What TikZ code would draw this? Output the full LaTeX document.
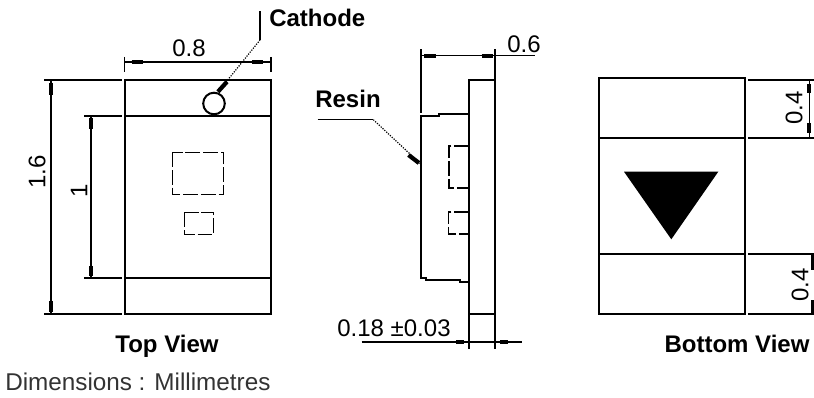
\documentclass[tikz,border=0pt]{standalone}
\usepackage{fontspec}
\setmainfont{Liberation Sans}
\usepackage{tikz}
\tikzstyle{outline} = [line width=1.5pt, black]
\tikzstyle{dimline} = [line width=1.2pt, black]
\tikzstyle{hidden} = [line width=1.2pt, black, dash pattern=on 11pt off 2.2pt]
\tikzstyle{leader} = [line width=0.9pt, black, densely dotted]
\tikzstyle{blob} = [line width=3.2pt, black]
\tikzstyle{dimtext} = [font=\fontsize{18}{20}\selectfont, inner sep=0pt]
\tikzstyle{viewtitle} = [font=\fontsize{18}{20}\selectfont\bfseries, inner sep=0pt]

\begin{document}
\begin{tikzpicture}[x=0.75pt, y=-0.75pt]
            \useasboundingbox (0,0) rectangle (814,398);

            % Top view
            \draw [outline] (124.5,80) rectangle (271,314);
            \draw [outline] (124.5,116) -- (271,116);
            \draw [outline] (124.5,278) -- (271,278);
            \draw [outline] (214,103.5) circle (10.8);
            \draw [hidden] (172.5,152.5) rectangle (223.5,194.5);
            \draw [hidden] (184.5,212.5) rectangle (213.5,234.5);

            % Top view dimensions
            \draw [dimline] (124.5,57) -- (124.5,72);
            \draw [dimline] (271,57) -- (271,72);
            \draw [dimline] (124.5,62) -- (271,62);
            \draw [blob] (131.5,62) -- (143,62);
            \draw [blob] (252,62) -- (263,62);
            \node (widthlabel) [dimtext] at (189,48) {0.8};

            \draw [dimline] (44,80) -- (121.5,80);
            \draw [dimline] (44,314) -- (121.5,314);
            \draw [dimline] (50.7,80) -- (50.7,314);
            \draw [blob] (51,83) -- (51,95);
            \draw [blob] (51,301) -- (51,312);
            \node (heightlabel) [dimtext, rotate=90] at (37,172) {1.6};

            \draw [dimline] (84,116) -- (121.5,116);
            \draw [dimline] (84,278) -- (121.5,278);
            \draw [dimline] (90.7,116) -- (90.7,278);
            \draw [blob] (91,118) -- (91,129);
            \draw [blob] (91,266) -- (91,276);
            \node (padlabel) [dimtext, rotate=90] at (79,191) {1};

            \draw [leader] (218,92) -- (260,40);
            \draw [dimline] (260,40) -- (260,11.5);
            \draw [blob] (218,91.7) -- (227,81.7);
            \node (cathode) [viewtitle, anchor=west] at (269,18) {Cathode};
            \node (topview) [viewtitle] at (167,346) {Top View};

            % Side view
            \draw [outline] (469,80.3) rectangle (494.7,314);
            \draw [outline] (469,314) -- (469,349.3);
            \draw [outline] (494.7,314) -- (494.7,349.3);
            \draw [outline] (469,114) -- (439,114) -- (439,115.7) -- (420.7,115.7) -- (420.7,278.3) -- (426,278.3) -- (426,279.7) -- (460,279.7) -- (460,282) -- (469,282);
            \draw [hidden] (469,146) -- (449,146) -- (449,188.3) -- (469,188.3);
            \draw [hidden] (469,212.3) -- (448.5,212.3) -- (448.5,234) -- (469,234);

            % Side view dimensions
            \draw [dimline] (420.7,49.3) -- (420.7,113);
            \draw [dimline] (494.7,49.3) -- (494.7,80);
            \draw [dimline] (420.7,55.7) -- (535,55.7);
            \draw [blob] (424,55.7) -- (436,55.7);
            \draw [blob] (481.7,55.7) -- (493,55.7);
            \node (depthlabel) [dimtext] at (524,44) {0.6};

            \draw [dimline] (361.7,342.3) -- (521.7,342.3);
            \draw [blob] (456,342.3) -- (464,342.3);
            \draw [blob] (500,342.3) -- (507.7,342.3);
            \node (leadlabel) [dimtext] at (394,328) {0.18 ±0.03};

            \draw [dimline] (317.7,119.7) -- (373.3,119.7);
            \draw [leader] (373.3,119.7) -- (420.7,164);
            \draw [blob] (408.5,155) -- (419,163);
            \node (resin) [viewtitle] at (348,99) {Resin};

            % Bottom view
            \draw [outline] (598.7,78.3) rectangle (745.3,314);
            \draw [outline] (598.7,138) -- (745.3,138);
            \draw [outline] (598.7,254) -- (745.3,254);
            \fill [black] (624,171.7) -- (718.3,171.7) -- (671.3,239.3) -- cycle;

            % Bottom view dimensions
            \draw [dimline] (748,80) -- (814,80);
            \draw [dimline] (748,138) -- (814,138);
            \draw [dimline] (809.3,80) -- (809.3,138);
            \draw [blob] (809.3,84) -- (809.3,93);
            \draw [blob] (809.3,123) -- (809.3,132.7);
            \node (toplabel) [dimtext, rotate=90] at (794,108) {0.4};

            \draw [dimline] (748,254) -- (814,254);
            \draw [dimline] (748,314) -- (814,314);
            \draw [line width=3pt] (812.5,254) -- (812.5,270);
            \draw [line width=3pt] (812.5,300) -- (812.5,314);
            \node (botlabel) [dimtext, rotate=90] at (800,285) {0.4};
            \node (bottomview) [viewtitle] at (737,344) {Bottom View};

            \node (units) [font=\fontsize{18.2}{20}\selectfont, text=black!80, inner sep=0pt, anchor=west] at (5,382) {Dimensions : Millimetres};
        \end{tikzpicture}
\end{document}
